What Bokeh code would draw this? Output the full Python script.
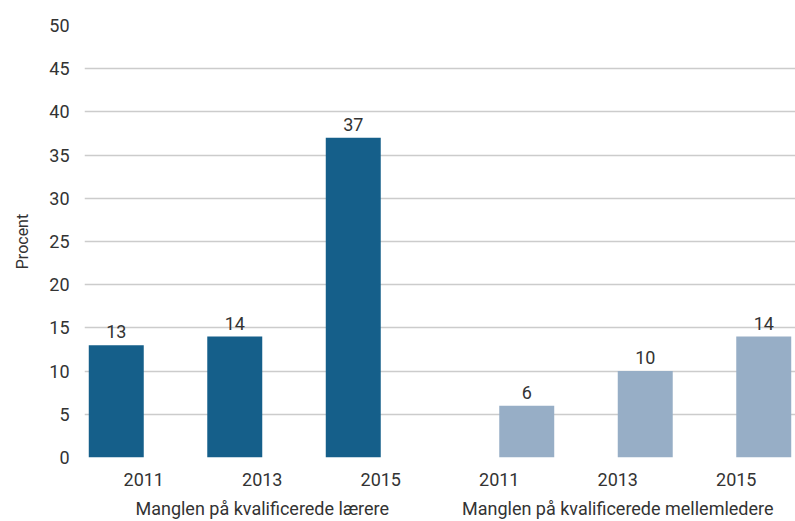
from bokeh.plotting import figure
from bokeh.models import FactorRange, ColumnDataSource, SingleIntervalTicker
from bokeh.transform import dodge
from bokeh.core.properties import value
from bokeh.embed import file_html
from bokeh.resources import INLINE

groups = ["Manglen på kvalificerede lærere", "Manglen på kvalificerede mellemledere"]
years = ["2011", "2013", "2015"]
laerere = [13, 14, 37]
mellemledere = [6, 10, 14]
y_label = "Procent"

FONT = "Roboto"
TXT = "#333333"

factors = [(g, y) for g in groups for y in years]
src1 = ColumnDataSource(dict(x=[(groups[0], y) for y in years], v=laerere,
                             t=[str(v) for v in laerere]))
src2 = ColumnDataSource(dict(x=[(groups[1], y) for y in years], v=mellemledere,
                             t=[str(v) for v in mellemledere]))

p = figure(x_range=FactorRange(*factors, group_padding=0, factor_padding=0, range_padding=0),
           y_range=(0, 50), width=795, height=521, output_backend="svg",
           toolbar_location=None, min_border_left=84, min_border_right=0,
           min_border_top=25, min_border_bottom=0)

bw = 0.464
p.vbar(x=dodge("x", -bw / 2, range=p.x_range), top="v", width=bw, source=src1,
       fill_color="#155f8a", line_color=None)
p.vbar(x=dodge("x", bw / 2, range=p.x_range), top="v", width=bw, source=src2,
       fill_color="#97aec6", line_color=None)

for src, off in ((src1, -bw / 2), (src2, bw / 2)):
    p.text(x=dodge("x", off, range=p.x_range), y="v", text="t", source=src,
           text_align="center", text_baseline="bottom", y_offset=-7,
           text_font=value(FONT), text_font_size="18px", text_color=TXT)

p.outline_line_color = None
p.xgrid.grid_line_color = None
p.ygrid.grid_line_color = "#cccccc"
p.ygrid.grid_line_width = 1.5

p.yaxis.ticker = SingleIntervalTicker(interval=5)
p.yaxis.axis_line_color = None
p.yaxis.major_tick_line_color = None
p.yaxis.minor_tick_line_color = None
p.yaxis.major_label_standoff = 9
p.yaxis.major_label_text_font = FONT
p.yaxis.major_label_text_font_size = "18px"
p.yaxis.major_label_text_color = TXT
p.yaxis.axis_label = y_label
p.yaxis.axis_label_text_font = FONT
p.yaxis.axis_label_text_font_style = "normal"
p.yaxis.axis_label_text_font_size = "16px"
p.yaxis.axis_label_text_color = TXT
p.yaxis.axis_label_standoff = 14

p.xaxis.axis_line_color = None
p.xaxis.major_tick_line_color = None
p.xaxis.minor_tick_line_color = None
p.xaxis.major_label_standoff = 9
p.xaxis.major_label_text_font = FONT
p.xaxis.major_label_text_font_size = "18px"
p.xaxis.major_label_text_color = TXT
p.xaxis.group_text_font = FONT
p.xaxis.group_text_font_size = "18px"
p.xaxis.group_text_font_style = "normal"
p.xaxis.group_text_color = TXT
p.xaxis.separator_line_color = None

open("out.html", "w").write(file_html(p, INLINE))
